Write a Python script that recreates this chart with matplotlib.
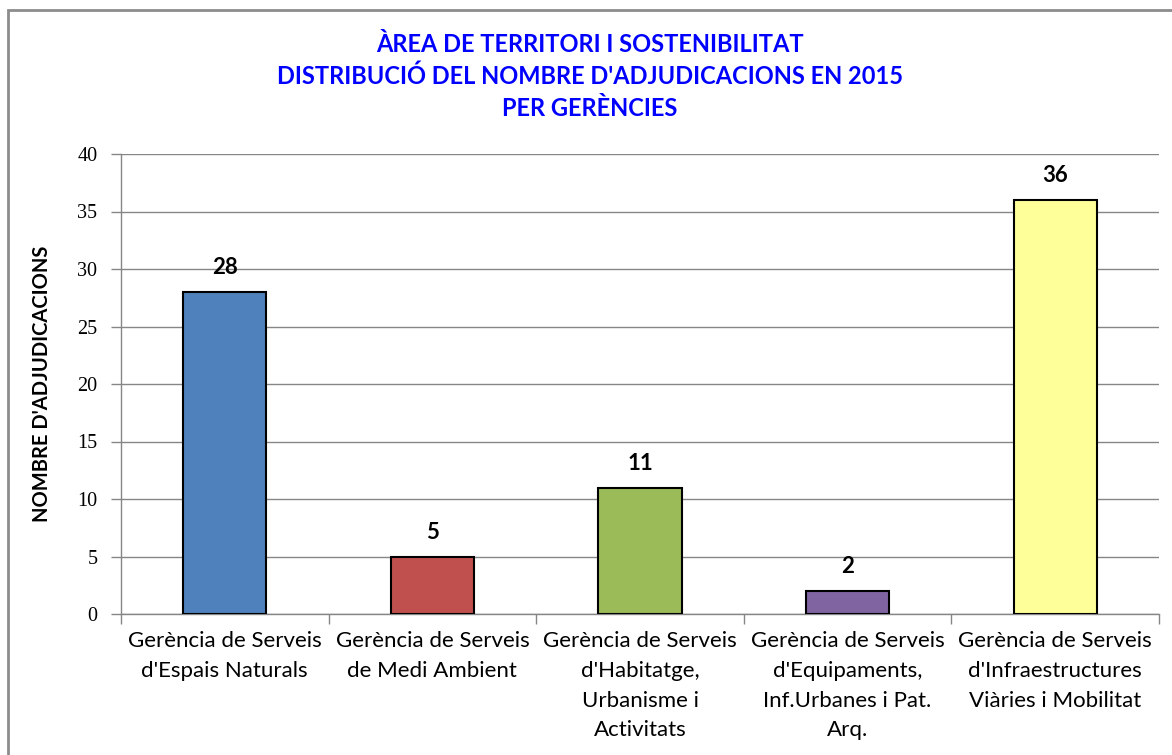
import matplotlib
matplotlib.use("Agg")
import matplotlib.pyplot as plt
from matplotlib.patches import Rectangle
from matplotlib.ticker import FixedLocator
import numpy as np

categories = [
    "Gerència de Serveis\nd'Espais Naturals",
    "Gerència de Serveis\nde Medi Ambient",
    "Gerència de Serveis\nd'Habitatge,\nUrbanisme i\nActivitats",
    "Gerència de Serveis\nd'Equipaments,\nInf.Urbanes i Pat.\nArq.",
    "Gerència de Serveis\nd'Infraestructures\nViàries i Mobilitat",
]
values = [28, 5, 11, 2, 36]
colors = ["#4F81BD", "#C0504D", "#9BBB59", "#8064A2", "#FFFF99"]
title_lines = [
    "ÀREA DE TERRITORI I SOSTENIBILITAT",
    "DISTRIBUCIÓ DEL NOMBRE D'ADJUDICACIONS EN 2015",
    "PER GERÈNCIES",
]
ylabel = "NOMBRE D'ADJUDICACIONS"
yticks = [0, 5, 10, 15, 20, 25, 30, 35, 40]

W, H = 1172, 755
fig = plt.figure(figsize=(W / 100, H / 100), dpi=100)
fig.patch.set_facecolor("white")

# outer chart border
fig.add_artist(Rectangle((8 / W, -0.05), 1.2, 1 - 10 / H + 0.05,
                         transform=fig.transFigure, fill=False,
                         edgecolor="#8c8c8c", linewidth=2))

left, right, top, bottom = 121, 1159, 154, 614
ax = fig.add_axes([left / W, 1 - bottom / H, (right - left) / W, (bottom - top) / H])

x = np.arange(len(values))
bars = ax.bar(x, values, width=0.40, color=colors, edgecolor="black",
              linewidth=1.5, zorder=3)
for xi, v in zip(x, values):
    ax.text(xi, v + 1.2, str(v), ha="center", va="bottom", fontsize=16,
            fontweight="bold", family=["Lato", "DejaVu Sans"], zorder=4)

ax.set_xlim(-0.5, len(values) - 0.5)
ax.set_ylim(0, 40)
ax.set_yticks(yticks)
ax.set_yticklabels([str(t) for t in yticks], fontsize=14.5,
                   family=["Liberation Serif", "DejaVu Serif"])
ax.yaxis.grid(True, color="#868686", linewidth=1, zorder=0)
ax.set_axisbelow(True)

ax.set_xticks(x)
ax.set_xticklabels(categories, fontsize=16, family=["Lato", "DejaVu Sans"],
                   linespacing=1.62, va="top")
ax.tick_params(axis="x", which="major", length=0, pad=12)
ax.xaxis.set_minor_locator(FixedLocator(np.arange(-0.5, len(values), 1.0)))
ax.tick_params(axis="x", which="minor", length=7, color="#868686", width=1)
ax.tick_params(axis="y", length=7, color="#868686", width=1, pad=10)

for s in ["top", "right"]:
    ax.spines[s].set_visible(False)
for s in ["left", "bottom"]:
    ax.spines[s].set_color("#868686")
    ax.spines[s].set_linewidth(1)

ax.set_ylabel(ylabel, fontsize=14.5, fontweight="bold",
              family=["Lato", "DejaVu Sans"], labelpad=18)

title_y = [45, 76, 108]
for line, ty in zip(title_lines, title_y):
    fig.text(590 / W, 1 - ty / H, line, ha="center", va="center",
             color="#0000FF", fontsize=17, fontweight="bold",
             family=["Liberation Sans Narrow", "Lato", "DejaVu Sans"])

fig.savefig("out.png", dpi=100)
